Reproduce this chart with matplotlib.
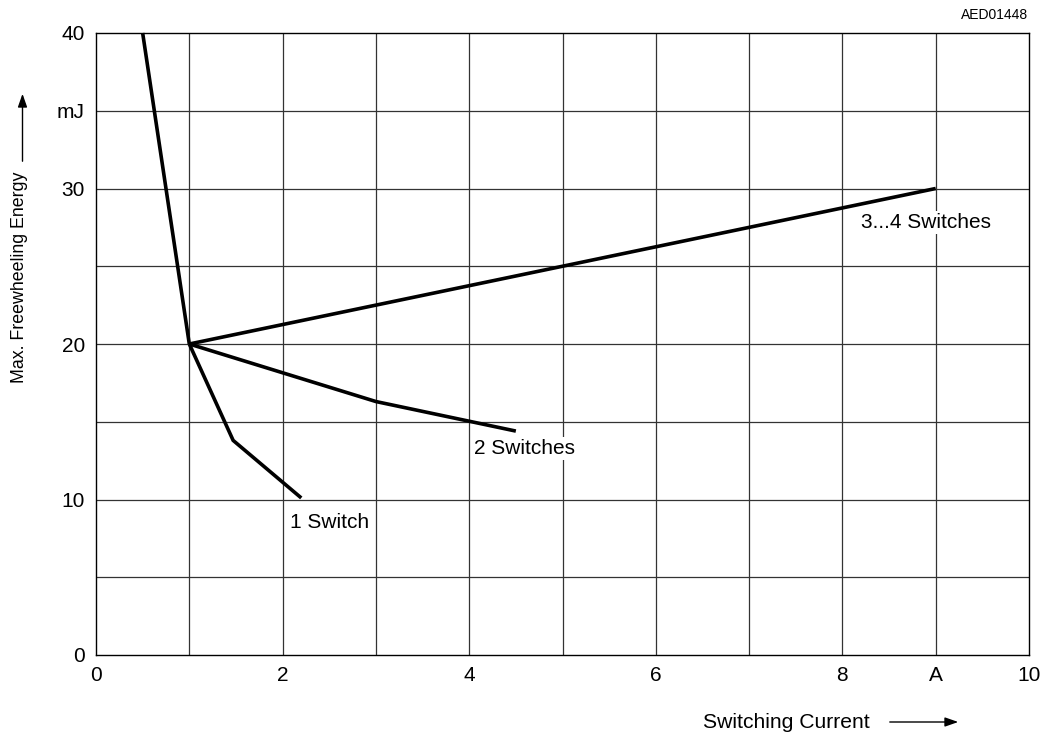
import matplotlib
matplotlib.use("Agg")
import matplotlib.pyplot as plt

plt.rcParams['font.family'] = ['Liberation Sans Narrow', 'Liberation Sans', 'DejaVu Sans']

# Data
steep_x = [0.5, 0.75, 1.0]
steep_y = [40, 30, 20]
one_x = [1.0, 1.47, 2.2]
one_y = [20, 13.8, 10.1]
two_x = [1.0, 3.0, 4.5]
two_y = [20, 16.3, 14.4]
three_x = [1.0, 9.0]
three_y = [20, 30]

xticks = [0, 2, 4, 6, 8, 9, 10]
xticklabels = ['0', '2', '4', '6', '8', 'A', '10']
yticks = [0, 10, 20, 30, 35, 40]
yticklabels = ['0', '10', '20', '30', 'mJ', '40']

fig = plt.figure(figsize=(10.44, 7.33), dpi=100)
ax = fig.add_axes([96/1044, 1-655/733, (1029-96)/1044, (655-33)/733])
ax.set_xlim(0, 10)
ax.set_ylim(0, 40)

for v in range(1, 10):
    ax.axvline(v, color='#333333', lw=0.9, zorder=1)
for v in range(5, 40, 5):
    ax.axhline(v, color='#333333', lw=0.9, zorder=1)

lw = 2.6
for xs, ys in [(steep_x, steep_y), (one_x, one_y), (two_x, two_y), (three_x, three_y)]:
    ax.plot(xs, ys, color='black', lw=lw, solid_capstyle='butt', solid_joinstyle='miter', zorder=3, clip_on=False)

ax.set_xticks(xticks)
ax.set_xticklabels(xticklabels)
ax.set_yticks(yticks)
ax.set_yticklabels(yticklabels)
ax.tick_params(length=0, labelsize=15, pad=8)
for s in ax.spines.values():
    s.set_linewidth(1.0)
    s.set_color('black')

bb = dict(facecolor='white', edgecolor='none', pad=1.5)
ax.text(8.2, 27.8, '3...4 Switches', fontsize=15, ha='left', va='center', bbox=bb, zorder=4)
ax.text(4.05, 13.3, '2 Switches', fontsize=15, ha='left', va='center', bbox=bb, zorder=4)
ax.text(2.08, 8.55, '1 Switch', fontsize=15, ha='left', va='center', bbox=bb, zorder=4)

fig.text(1028/1044, 1-15/733, 'AED01448', fontsize=10, ha='right', va='center')

# axis labels with arrows
fig.text(20/1044, 1-383/733, 'Max. Freewheeling Energy', fontsize=12.8, rotation=90, ha='center', va='bottom')
fig.add_artist(matplotlib.patches.FancyArrowPatch((22.5/1044, 1-164/733), (22.5/1044, 1-91/733),
               transform=fig.transFigure, arrowstyle='-|>,head_length=8,head_width=2.8', color='black', lw=1.0))
fig.text(703/1044, 1-722/733, 'Switching Current', fontsize=15.2, ha='left', va='center')
fig.add_artist(matplotlib.patches.FancyArrowPatch((887/1044, 1-722/733), (961/1044, 1-722/733),
               transform=fig.transFigure, arrowstyle='-|>,head_length=8,head_width=2.8', color='black', lw=1.0))

fig.savefig('out.png', dpi=100)
